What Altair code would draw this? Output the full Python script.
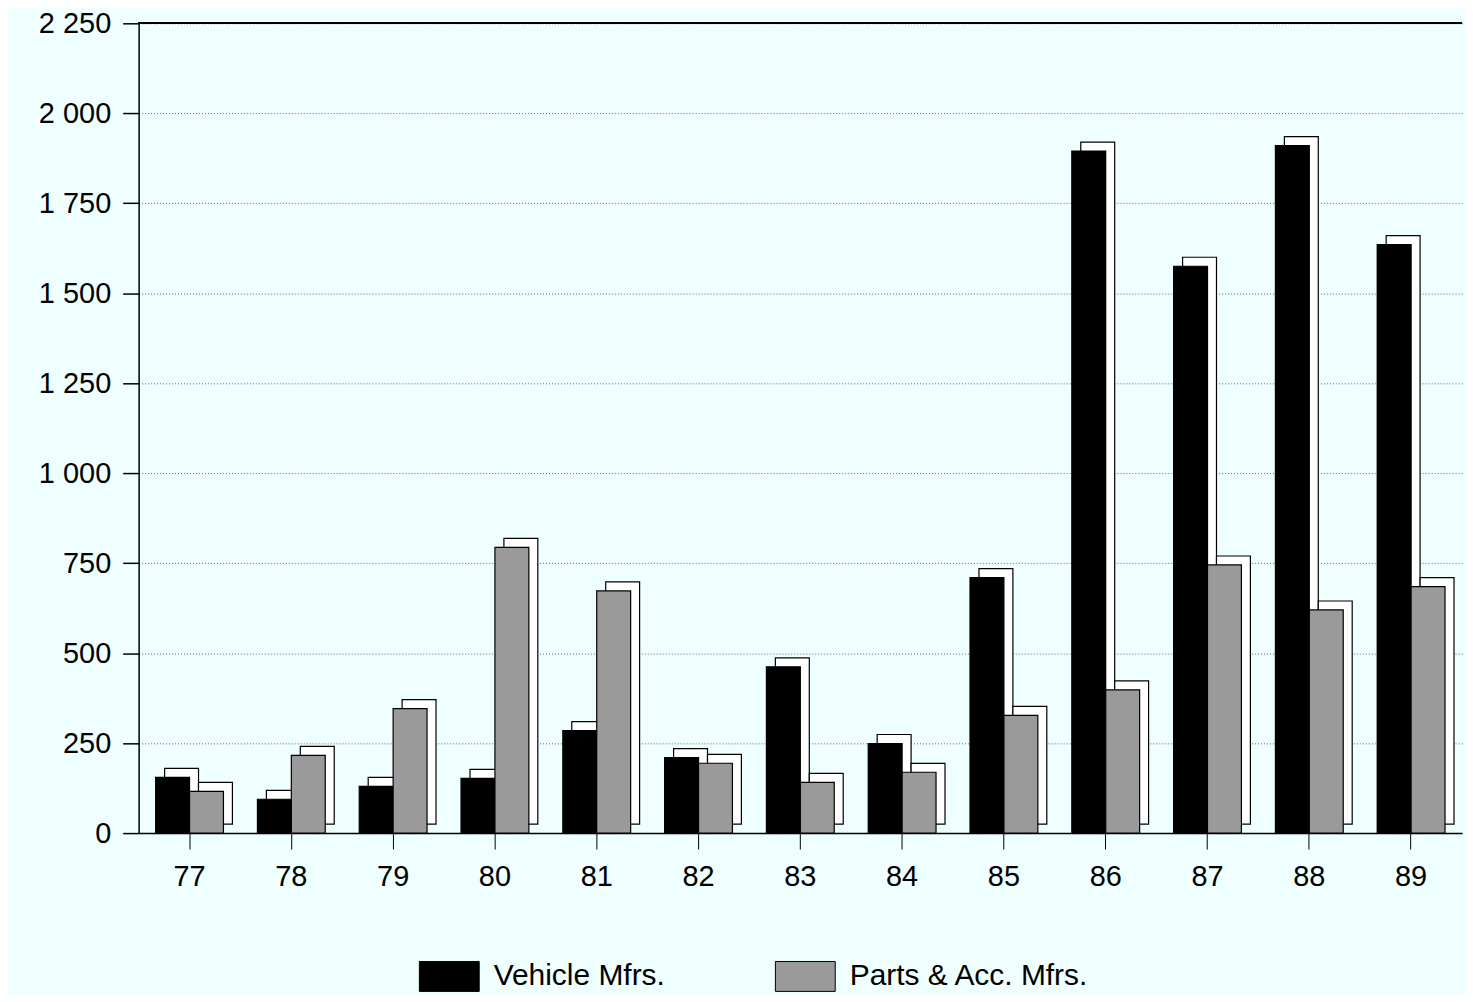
import altair as alt
import pandas as pd

years = ["77", "78", "79", "80", "81", "82", "83", "84", "85", "86", "87", "88", "89"]
vehicle = [155, 94, 130, 152, 285, 210, 462, 249, 710, 1895, 1575, 1910, 1635]
parts = [116, 216, 346, 794, 673, 194, 141, 169, 327, 398, 745, 620, 685]
series = ["Vehicle Mfrs.", "Parts & Acc. Mfrs."]
y_ticks = [0, 250, 500, 750, 1000, 1250, 1500, 1750, 2000, 2250]

rows = []
for i, yr in enumerate(years):
    rows.append({"year": yr, "series": series[0], "value": vehicle[i]})
    rows.append({"year": yr, "series": series[1], "value": parts[i]})
df = pd.DataFrame(rows)

BG = "#effefe"
BAR_W = 34
DEPTH = 9
FONT = "Liberation Sans"

x_enc = alt.X(
    "year:N",
    sort=years,
    scale=alt.Scale(paddingInner=0, paddingOuter=0),
    axis=alt.Axis(
        title=None, labelAngle=0, labelFontSize=29, labelFont=FONT, labelColor="black",
        labelPadding=14, tickSize=16, tickColor="black", domainColor="black",
        domainWidth=1.5, grid=False,
    ),
)
y_enc = alt.Y(
    "value:Q",
    scale=alt.Scale(domain=[0, 2250], nice=False),
    axis=alt.Axis(
        title=None, values=y_ticks, labelFontSize=29, labelFont=FONT, labelColor="black",
        labelExpr="replace(format(datum.value, ','), ',', ' ')",
        labelPadding=12, tickSize=16, tickColor="black", tickWidth=1.5,
        domainColor="black", domainWidth=1.5,
        grid=True, gridColor="#444", gridDash=[1, 2], gridWidth=0.8,
    ),
)

color_enc = alt.Color(
    "series:N",
    scale=alt.Scale(domain=series, range=["#000000", "#9a9a9a"]),
    sort=series,
    legend=alt.Legend(
        title=None, orient="none", direction="horizontal",
        legendX=281, legendY=925,
        labelFontSize=30, labelFont=FONT, labelColor="black", labelLimit=0,
        symbolType="M-1,-0.5H1V0.5H-1Z", symbolSize=3600,
        symbolStrokeColor="black", symbolStrokeWidth=1, symbolOpacity=1,
        columnPadding=108, labelOffset=14,
    ),
)

base = alt.Chart(df).encode(x=x_enc, y=y_enc)

def layers_for(name, off):
    sub = base.transform_filter(alt.datum.series == name)
    shadow = sub.mark_bar(
        width=BAR_W, xOffset=off + DEPTH, x2Offset=off + DEPTH,
        yOffset=-DEPTH, y2Offset=-DEPTH,
        fill="white", stroke="black", strokeWidth=1.2,
    )
    front = sub.mark_bar(
        width=BAR_W, xOffset=off, x2Offset=off,
        stroke="black", strokeWidth=1.2, opacity=1,
    ).encode(color=color_enc)
    return [shadow, front]

top_line = alt.Chart(df).mark_rule(color="black", strokeWidth=1.5).encode(y=alt.datum(2250))

layers = [top_line] + layers_for(series[0], -BAR_W / 2) + layers_for(series[1], BAR_W / 2)

chart = alt.layer(*layers).properties(
    width=1327, height=812,
    background=BG,
    padding={"left": 30, "top": 0, "right": 2, "bottom": 0},
).configure_view(stroke=None)

chart.save("out.html", embed_options={"renderer": "svg", "actions": False})
